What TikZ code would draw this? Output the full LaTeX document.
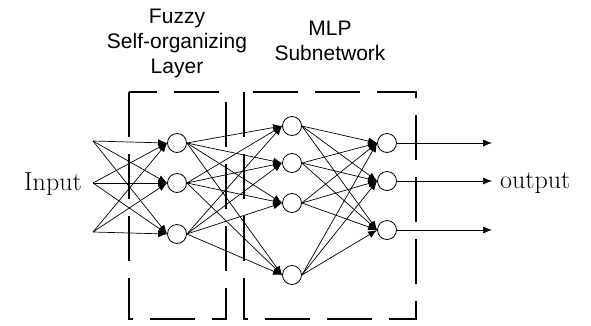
\documentclass[tikz,border=0pt]{standalone}
\usepackage{fontspec}
\newfontfamily\labelfont{Liberation Sans}
\usetikzlibrary{arrows.meta}
\tikzset{
	neuron/.style={draw, circle, fill=white, minimum size=19pt, inner sep=0pt, line width=0.8pt},
	link/.style={-{Latex[length=9pt,width=7pt]}, line width=0.7pt},
	layerbox/.style={dash pattern=on 45pt off 17pt, line width=1.1pt},
	heading/.style={font=\labelfont\fontsize{21}{25}\selectfont, align=center, inner sep=0pt},
	ioword/.style={font=\fontsize{26}{30}\selectfont, inner sep=0pt}
}
\begin{document}
\begin{tikzpicture}[x=1pt, y=-1pt]
	\useasboundingbox (0,0) rectangle (591,325);
	% dashed boxes round the two subnetworks
	\draw [layerbox] (129,92) rectangle (226,319);
	\draw [layerbox] (244,92) rectangle (416,319);
	
	\foreach \y [count=\i] in {141,183,232} \coordinate (in\i) at (93,\y);
	\foreach \y [count=\i] in {143,183,234} \node [neuron] (f\i) at (177,\y) {};
	\foreach \y [count=\i] in {126,163,203,275} \node [neuron] (h\i) at (292,\y) {};
	\foreach \y [count=\i] in {143,181,230} \node [neuron] (o\i) at (387,\y) {};
	\foreach \y [count=\i] in {143,181,230} \coordinate (out\i) at (492,\y);
	
	% full connections between layers
	\foreach \i in {1,2,3} \foreach \j in {1,2,3} \draw [link] (in\i) -- (f\j.west);
	\foreach \i in {1,2,3} \foreach \j in {1,...,4} \draw [link] (f\i.east) -- (h\j.west);
	\foreach \i in {1,...,4} \foreach \j in {1,2,3} \draw [link] (h\i.east) -- (o\j.west);
	\foreach \i in {1,2,3} \draw [link] (o\i) -- (out\i);
	
	\node [ioword, anchor=base east] (input) at (82,190) {Input};
	\node [ioword, anchor=base west] (output) at (500,188) {output};
	\node [heading, anchor=base] (fuzzylabel) at (177,73) {Fuzzy\\Self-organizing\\Layer};
	\node [heading, anchor=base] (mlplabel) at (330,60) {MLP\\Subnetwork};
\end{tikzpicture}
\end{document}
